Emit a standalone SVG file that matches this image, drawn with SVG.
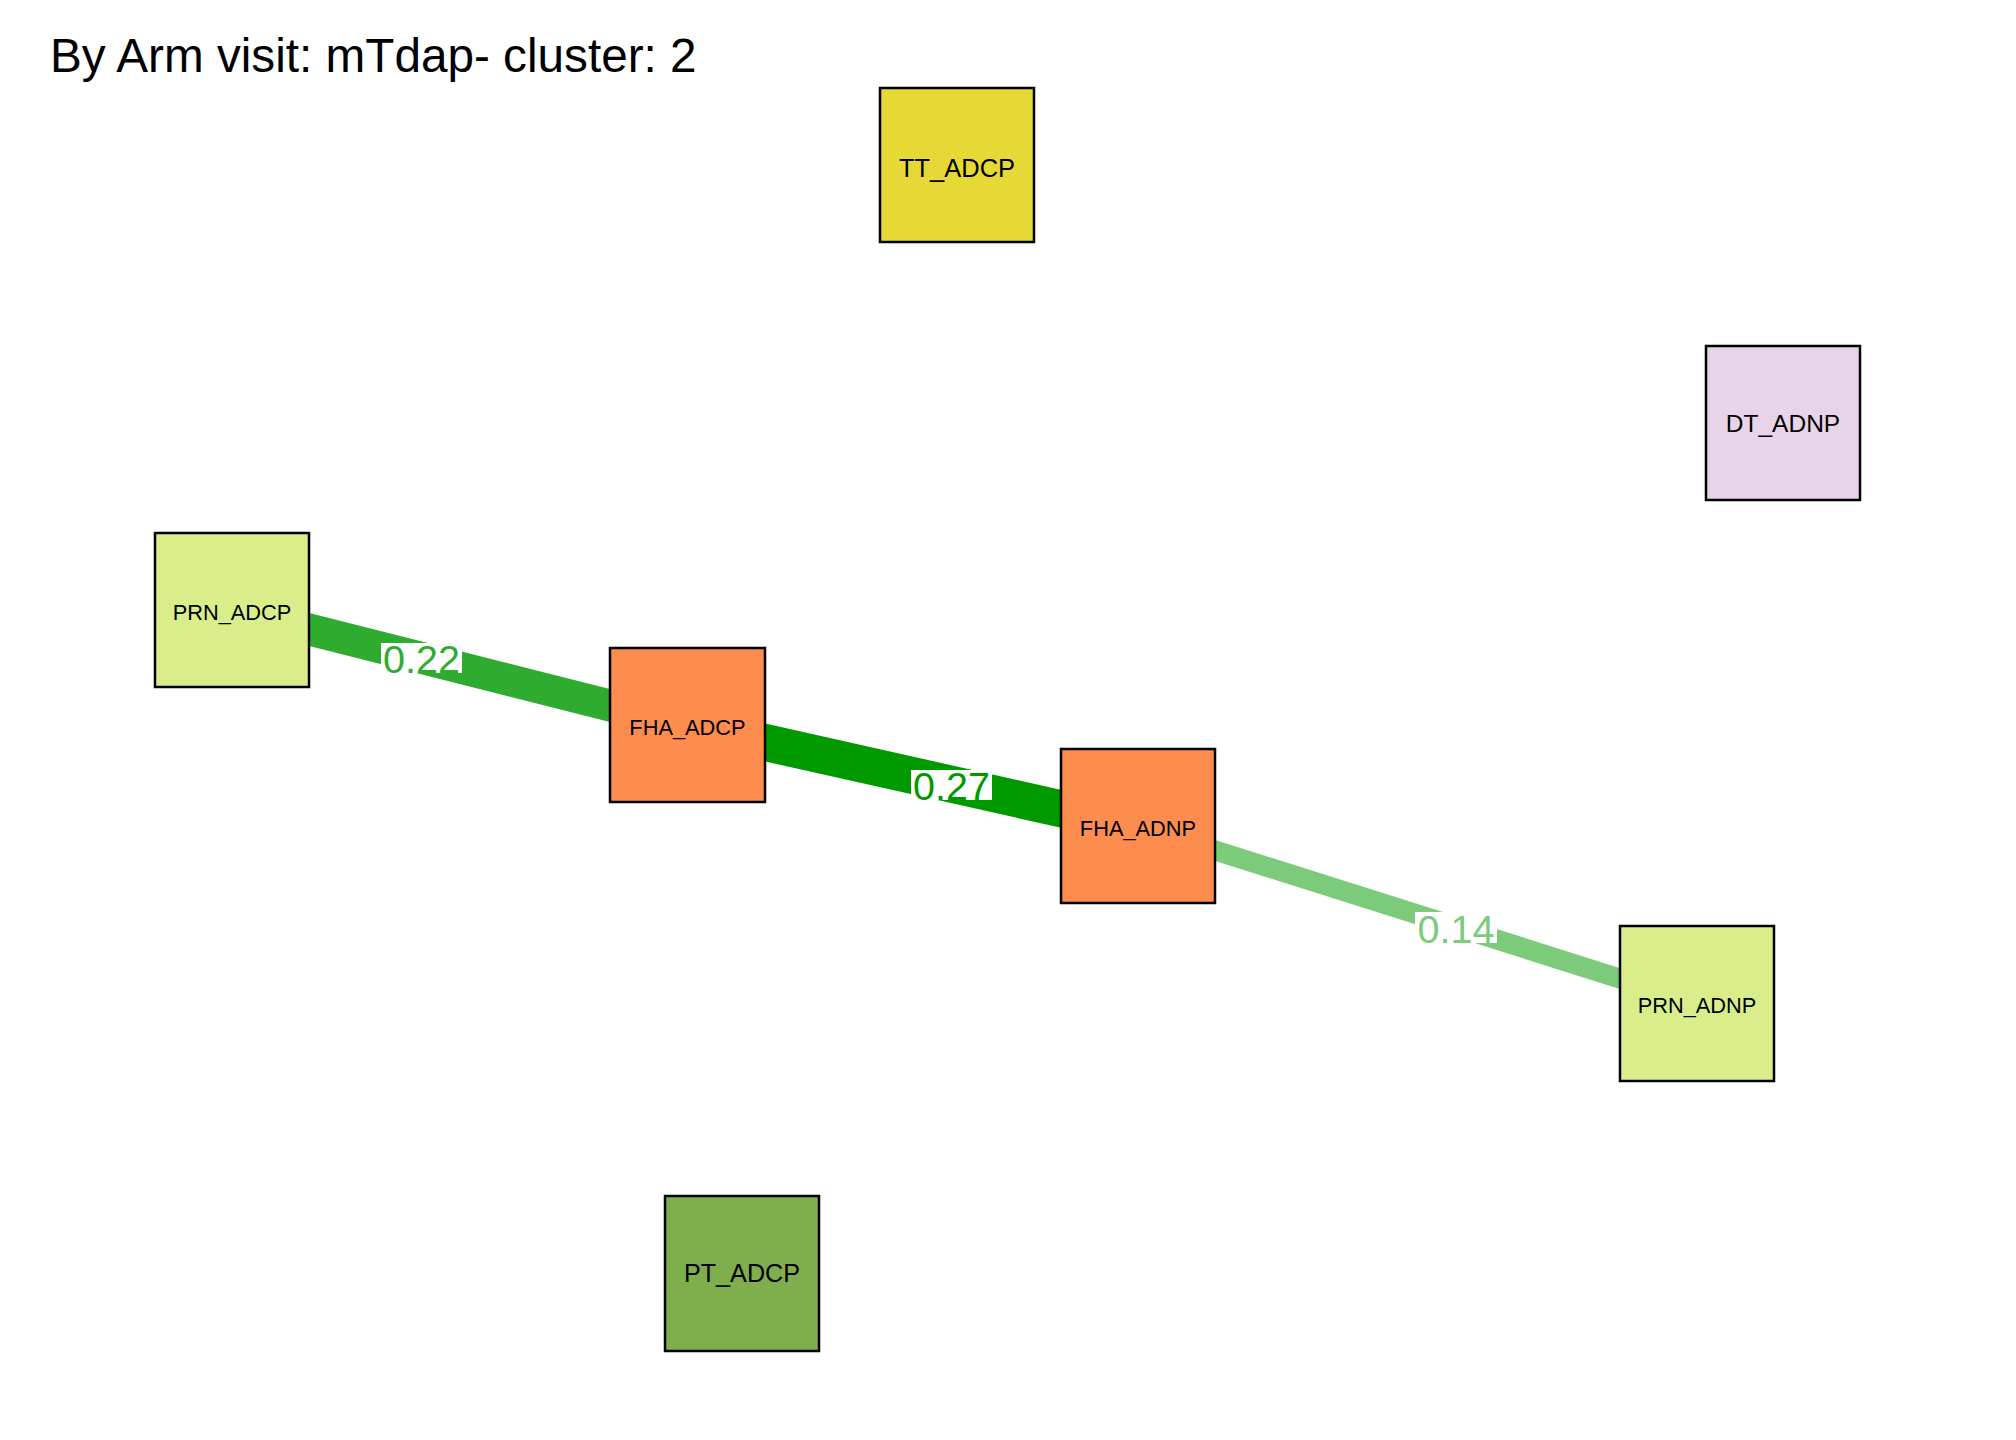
<svg xmlns="http://www.w3.org/2000/svg" width="2016" height="1440" viewBox="0 0 2016 1440">
<style>
  .node rect { stroke: #000; stroke-width: 2.5; }
  .node text { font-family: "Liberation Sans", Arial, sans-serif; text-anchor: middle; fill: #000; }
  .elabel { font-family: "Liberation Sans", Arial, sans-serif; font-size: 39.5px; text-anchor: middle; }
  .title { font-family: "Liberation Sans", Arial, sans-serif; font-size: 47.7px; fill: #000; }
</style>
<rect x="0" y="0" width="2016" height="1440" fill="#fff"/>
<text class="title" x="50" y="72">By Arm visit: mTdap- cluster: 2</text>
<g id="connectors">
  <line x1="232" y1="610" x2="687" y2="725" stroke="#2FAB2F" stroke-width="32"/>
  <line x1="687" y1="725" x2="1138" y2="826" stroke="#009900" stroke-width="37"/>
  <line x1="1138" y1="826" x2="1697" y2="1003" stroke="#7BCB7B" stroke-width="20"/>
  <rect x="381" y="643" width="81" height="30" fill="#fff"/>
  <text class="elabel" x="421.5" y="672.5" fill="#2FAB2F">0.22</text>
  <rect x="911" y="770" width="81" height="30" fill="#fff"/>
  <text class="elabel" x="951.5" y="799.5" fill="#009900">0.27</text>
  <rect x="1415" y="912" width="82" height="31" fill="#fff"/>
  <text class="elabel" x="1456" y="942.5" fill="#7BCB7B">0.14</text>
</g>
<g id="TT_ADCP" class="node">
  <rect x="880" y="88" width="154" height="154" fill="#E6D935"/>
  <text x="957" y="177" font-size="25.5">TT_ADCP</text>
</g>
<g id="DT_ADNP" class="node">
  <rect x="1706" y="346" width="154" height="154" fill="#E7D4E8"/>
  <text x="1783" y="432" font-size="24.5">DT_ADNP</text>
</g>
<g id="PRN_ADCP" class="node">
  <rect x="155" y="533" width="154" height="154" fill="#D9EE8B"/>
  <text x="232" y="620" font-size="21.8">PRN_ADCP</text>
</g>
<g id="FHA_ADCP" class="node">
  <rect x="610" y="648" width="155" height="154" fill="#FC8D4F"/>
  <text x="687.5" y="735" font-size="21.8">FHA_ADCP</text>
</g>
<g id="FHA_ADNP" class="node">
  <rect x="1061" y="749" width="154" height="154" fill="#FC8D4F"/>
  <text x="1138" y="836" font-size="21.8">FHA_ADNP</text>
</g>
<g id="PRN_ADNP" class="node">
  <rect x="1620" y="926" width="154" height="155" fill="#D9EE8B"/>
  <text x="1697" y="1013" font-size="21.8">PRN_ADNP</text>
</g>
<g id="PT_ADCP" class="node">
  <rect x="665" y="1196" width="154" height="155" fill="#7FAF4C"/>
  <text x="742" y="1282" font-size="25.2">PT_ADCP</text>
</g>
</svg>
